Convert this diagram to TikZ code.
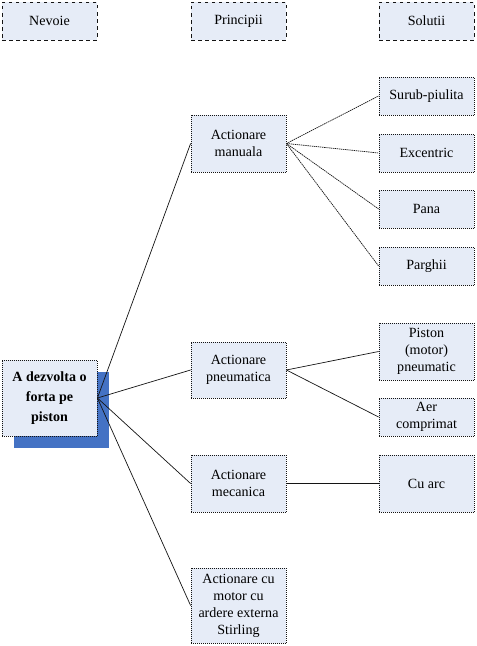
\documentclass[tikz,border=0pt]{standalone}
\usepackage{fontspec}
\setmainfont{Liberation Serif}
\usetikzlibrary{positioning,shadows}
\definecolor{boxfill}{RGB}{230,236,247}
\definecolor{shadowblue}{RGB}{68,114,196}
\definecolor{lineblack}{RGB}{20,20,20}

\begin{document}
\begin{tikzpicture}[
  x=0.03cm,y=-0.03cm,
  font=\fontsize{12}{14.5}\selectfont,
  head/.style={draw=lineblack,fill=boxfill,dashed,line width=0.6pt,minimum width=2.85cm,minimum height=1.14cm,inner sep=1pt,align=center},
  box/.style={draw=lineblack,fill=boxfill,densely dotted,line width=0.7pt,minimum width=2.85cm,inner sep=1pt,align=center},
  rootbox/.style={box,font=\fontsize{12}{17}\selectfont\bfseries,minimum height=2.28cm,
    drop shadow={shadow xshift=0.36cm,shadow yshift=-0.36cm,fill=shadowblue,opacity=1}},
  link/.style={line width=0.6pt,lineblack},
  dotlink/.style={link,dash pattern=on 1.2pt off 0.6pt}
]
\useasboundingbox (0,0) rectangle (476,646);

% Column headers
\node[head] (hnev) at (49.5,21) {Nevoie};
\node[head] (hpri) at (238.5,21) {Principii};
\node[head] (hsol) at (426.5,21) {Solutii};

% Need
\node[rootbox] (need) at (49.5,398) {A dezvolta o\\forta pe\\piston};

% Principles
\node[box,minimum height=1.71cm] (manual) at (238.5,143.5) {Actionare\\manuala};
\node[box,minimum height=1.68cm] (pneu) at (238.5,370) {Actionare\\pneumatica};
\node[box,minimum height=1.71cm] (meca) at (238.5,483.5) {Actionare\\mecanica};
\node[box,minimum height=2.25cm] (stirl) at (238.5,605.5) {Actionare cu\\motor cu\\ardere externa\\Stirling};

% Solutions
\node[box,minimum height=1.14cm] (surub) at (426.5,96) {Surub-piulita};
\node[box,minimum height=1.14cm] (excen) at (426.5,153) {Excentric};
\node[box,minimum height=1.14cm] (pana) at (426.5,209) {Pana};
\node[box,minimum height=1.14cm] (parg) at (426.5,266) {Parghii};
\node[box,minimum height=1.71cm] (piston) at (426.5,351.5) {Piston\\(motor)\\pneumatic};
\node[box,minimum height=1.14cm] (aer) at (426.5,417) {Aer\\comprimat};
\node[box,minimum height=1.71cm] (arc) at (426.5,483.5) {Cu arc};

% Need -> principles
\foreach \p in {manual,pneu,meca,stirl}
  \draw[link] (need.east) -- (\p.west);

% Principles -> solutions
\foreach \s in {surub,excen,pana,parg}
  \draw[dotlink] (manual.east) -- (\s.west);
\draw[link] (pneu.east) -- (piston.west);
\draw[link] (pneu.east) -- (aer.west);
\draw[link] (meca.east) -- (arc.west);

\end{tikzpicture}
\end{document}
